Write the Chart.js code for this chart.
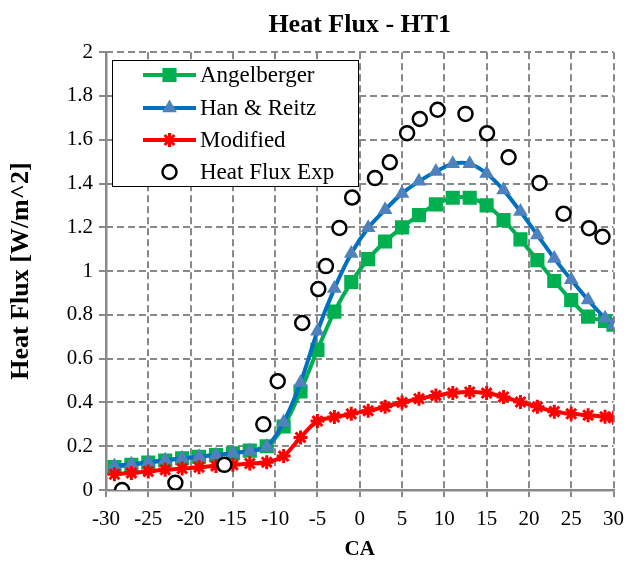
<!DOCTYPE html>
<html>
<head>
<meta charset="utf-8">
<script src="https://cdn.jsdelivr.net/npm/chart.js@4.4.1/dist/chart.umd.min.js"></script>
<style>
  html, body { margin: 0; padding: 0; background: #fff; overflow: hidden; }
  #wrap { width: 634px; height: 564px; position: relative; }
  #wrap canvas { position: absolute; left: 0; top: 0; }
  #legendLayer { pointer-events: none; }
</style>
</head>
<body>
<div id="wrap">
  <canvas id="heatFluxChart" width="634" height="564"></canvas>
  <canvas id="legendLayer" width="634" height="564"></canvas>
</div>
<script>
// crank angle of the model points
const ca = [-29, -27, -25, -23, -21, -19, -17, -15, -13, -11, -9, -7, -5, -3, -1,
            1, 3, 5, 7, 9, 11, 13, 15, 17, 19, 21, 23, 25, 27, 29, 30];

const angelberger = [0.105, 0.115, 0.125, 0.135, 0.145, 0.152, 0.16, 0.168, 0.18, 0.2,
                     0.29, 0.45, 0.64, 0.815, 0.95, 1.055, 1.135, 1.2, 1.256, 1.305,
                     1.335, 1.335, 1.3, 1.233, 1.145, 1.05, 0.955, 0.868, 0.792, 0.772, 0.755];

const hanReitz = [0.11, 0.118, 0.127, 0.136, 0.145, 0.152, 0.16, 0.168, 0.178, 0.198,
                  0.31, 0.49, 0.725, 0.92, 1.08, 1.198, 1.28, 1.355, 1.41, 1.455,
                  1.49, 1.49, 1.446, 1.37, 1.272, 1.165, 1.058, 0.96, 0.868, 0.785, 0.755];

const modified = [0.072, 0.078, 0.085, 0.092, 0.098, 0.104, 0.11, 0.115, 0.121, 0.127,
                  0.155, 0.24, 0.315, 0.333, 0.348, 0.362, 0.38, 0.4, 0.417, 0.432,
                  0.443, 0.448, 0.443, 0.425, 0.402, 0.38, 0.358, 0.348, 0.342, 0.335, 0.33];

// experiment (own crank angles)
const expCA = [-28.1, -21.8, -16.0, -11.4, -9.7, -6.8, -4.9, -4.0, -2.4, -0.9, 1.8,
               3.55, 5.6, 7.1, 9.2, 12.5, 15.05, 17.6, 21.25, 24.1, 27.1, 28.7];
const expFlux = [0.0, 0.033, 0.115, 0.3, 0.497, 0.763, 0.918, 1.023, 1.197, 1.336, 1.425,
                 1.497, 1.63, 1.695, 1.737, 1.718, 1.63, 1.52, 1.403, 1.262, 1.196, 1.157];

const xTicks = [-30, -25, -20, -15, -10, -5, 0, 5, 10, 15, 20, 25, 30];
const yTicks = [0, 0.2, 0.4, 0.6, 0.8, 1, 1.2, 1.4, 1.6, 1.8, 2];
const yLabels = ["0", "0.2", "0.4", "0.6", "0.8", "1", "1.2", "1.4", "1.6", "1.8", "2"];

const SERIF = "'Liberation Serif', 'Times New Roman', serif";
const GRID = "#898989";

// where the plot box sits in the original picture
const target = { left: 106, right: 621, bottom: 490 };
let yWidth = 106;
let xHeight = 74;

function pts(xs, ys) {
  return xs.map((x, i) => ({ x: x, y: ys[i] }));
}

// dashed grid under the series; each dash is a small filled box (no setLineDash)
const DASH = 7, GAP = 4, LW = 2;
const dashedGrid = {
  id: "dashedGrid",
  beforeDatasetsDraw(chart) {
    const { ctx, chartArea: a, scales } = chart;
    ctx.save();
    ctx.fillStyle = GRID;
    xTicks.slice(1).forEach((v) => {
      const px = Math.round(scales.x.getPixelForValue(v));
      for (let y = a.top; y < a.bottom; y += DASH + GAP) {
        ctx.fillRect(px - LW / 2, y, LW, Math.min(DASH, a.bottom - y));
      }
    });
    yTicks.slice(1).forEach((v) => {
      const py = Math.round(scales.y.getPixelForValue(v));
      for (let x = a.left; x < a.right; x += DASH + GAP) {
        ctx.fillRect(x, py - LW / 2, Math.min(DASH, a.right - x), LW);
      }
    });
    ctx.restore();
  }
};

const chart = new Chart(document.getElementById("heatFluxChart").getContext("2d"), {
  type: "line",
  data: {
    datasets: [
      {
        label: "Angelberger",
        data: pts(ca, angelberger),
        borderColor: "#00B050",
        borderWidth: 4,
        pointStyle: "rect",
        pointRadius: 10,
        pointBackgroundColor: "#00B050",
        pointBorderColor: "#00B050",
        pointBorderWidth: 0,
        tension: 0.3,
        order: 4
      },
      {
        label: "Han & Reitz",
        data: pts(ca, hanReitz),
        borderColor: "#0070C0",
        borderWidth: 4,
        pointStyle: "triangle",
        pointRadius: 8.5,
        pointBackgroundColor: "#4F81BD",
        pointBorderColor: "#4F81BD",
        pointBorderWidth: 0,
        tension: 0.3,
        order: 3
      },
      {
        label: "Modified",
        data: pts(ca, modified),
        borderColor: "#FF0000",
        borderWidth: 4,
        pointStyle: "star",
        pointRadius: 7,
        pointBackgroundColor: "#FF0000",
        pointBorderColor: "#FF0000",
        pointBorderWidth: 3,
        tension: 0.3,
        order: 2
      },
      {
        label: "Heat Flux Exp",
        data: pts(expCA, expFlux),
        showLine: false,
        borderColor: "#000",
        borderWidth: 0,
        pointStyle: "circle",
        pointRadius: 7,
        pointBackgroundColor: "#fff",
        pointBorderColor: "#000",
        pointBorderWidth: 2.5,
        order: 1
      }
    ]
  },
  options: {
    responsive: false,
    animation: false,
    layout: { padding: { top: 0, right: 13, bottom: 0, left: 0 } },
    plugins: {
      legend: { display: false },
      tooltip: { enabled: false },
      title: {
        display: true,
        text: "Heat Flux - HT1",
        fullSize: false,
        color: "#000",
        font: { family: SERIF, size: 26, weight: "bold" },
        padding: { top: 10, bottom: 11 }
      }
    },
    scales: {
      x: {
        type: "linear",
        min: -30,
        max: 30,
        afterBuildTicks: (s) => { s.ticks = xTicks.map((v) => ({ value: v })); },
        afterFit: (s) => { s.height = xHeight; },
        ticks: {
          color: "#000",
          padding: 10,
          font: { family: SERIF, size: 21 },
          callback: (v) => String(v)
        },
        grid: { drawOnChartArea: false, color: GRID, lineWidth: 2, tickLength: 7 },
        border: { display: true, color: GRID, width: 2.5 },
        title: {
          display: true,
          text: "CA",
          color: "#000",
          font: { family: SERIF, size: 21, weight: "bold" },
          padding: { top: 0, bottom: 2 }
        }
      },
      y: {
        type: "linear",
        min: 0,
        max: 2,
        afterBuildTicks: (s) => { s.ticks = yTicks.map((v) => ({ value: v })); },
        afterFit: (s) => { s.width = yWidth; },
        ticks: {
          color: "#000",
          padding: 6,
          font: { family: SERIF, size: 21 },
          callback: (v) => yLabels[yTicks.indexOf(v)] ?? String(v)
        },
        grid: { drawOnChartArea: false, color: GRID, lineWidth: 2, tickLength: 7 },
        border: { display: true, color: GRID, width: 2.5 },
        title: {
          display: true,
          text: "Heat Flux [W/m^2]",
          color: "#000",
          font: { family: SERIF, size: 26, weight: "bold" },
          padding: { top: 6, bottom: 0 }
        }
      }
    }
  },
  plugins: [dashedGrid]
});

// nudge the plot box onto the reference position
for (let k = 0; k < 4; k++) {
  const a = chart.chartArea;
  const dl = target.left - a.left;
  const dr = a.right - target.right;
  const db = a.bottom - target.bottom;
  if (Math.abs(dl) < 0.5 && Math.abs(dr) < 0.5 && Math.abs(db) < 0.5) break;
  yWidth += dl;
  xHeight += db;
  const pad = chart.options.layout.padding;
  pad.right = Math.max(0, pad.right + dr);
  chart.update("none");
}

// legend box inside the plot (excel style), on its own layer
function legendMarker(ctx, ds, x, y) {
  const r = ds.pointRadius;
  ctx.fillStyle = ds.pointBackgroundColor;
  ctx.strokeStyle = ds.pointBorderColor;
  ctx.lineWidth = ds.pointBorderWidth;
  ctx.beginPath();
  if (ds.pointStyle === "rect") {
    const s = r * Math.SQRT1_2;
    ctx.rect(x - s, y - s, 2 * s, 2 * s);
    ctx.fill();
  } else if (ds.pointStyle === "triangle") {
    for (let k = 0; k < 3; k++) {
      const ang = -Math.PI / 2 + k * 2 * Math.PI / 3;
      const px = x + r * Math.cos(ang), py = y + r * Math.sin(ang);
      if (k === 0) ctx.moveTo(px, py); else ctx.lineTo(px, py);
    }
    ctx.closePath();
    ctx.fill();
  } else if (ds.pointStyle === "star") {
    for (let k = 0; k < 4; k++) {
      const ang = k * Math.PI / 4;
      ctx.moveTo(x - r * Math.cos(ang), y - r * Math.sin(ang));
      ctx.lineTo(x + r * Math.cos(ang), y + r * Math.sin(ang));
    }
    ctx.stroke();
  } else {
    ctx.arc(x, y, r, 0, Math.PI * 2);
    ctx.fill();
    ctx.stroke();
  }
}

(function drawLegend() {
  const ctx = document.getElementById("legendLayer").getContext("2d");
  const box = { x: 112, y: 60, w: 246, h: 126 };
  ctx.fillStyle = "#fff";
  ctx.fillRect(box.x, box.y, box.w, box.h);
  ctx.strokeStyle = "#000";
  ctx.lineWidth = 1;
  ctx.strokeRect(box.x + 0.5, box.y + 0.5, box.w, box.h);

  const rows = [75, 108, 140, 172];
  chart.data.datasets.forEach((ds, i) => {
    const y = rows[i];
    if (ds.showLine !== false) {
      ctx.strokeStyle = ds.borderColor;
      ctx.lineWidth = ds.borderWidth;
      ctx.beginPath();
      ctx.moveTo(143, y);
      ctx.lineTo(196, y);
      ctx.stroke();
    }
    legendMarker(ctx, ds, 169.5, y);
    ctx.fillStyle = "#000";
    ctx.font = "23px " + SERIF;
    ctx.textAlign = "left";
    ctx.textBaseline = "middle";
    ctx.fillText(ds.label, 200, y + 1);
  });
})();
</script>
</body>
</html>
